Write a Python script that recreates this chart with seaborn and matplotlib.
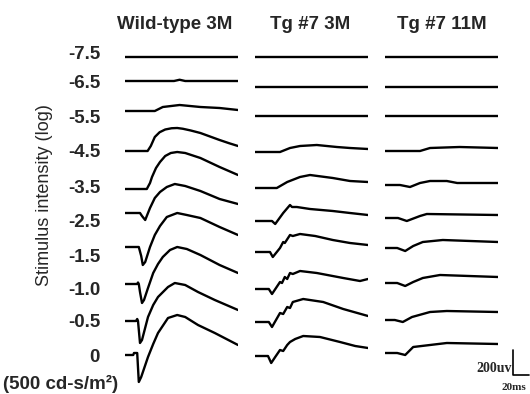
import numpy as np
import pandas as pd
import seaborn as sns
import matplotlib.pyplot as plt

intensities = ["-7.5", "-6.5", "-5.5", "-4.5", "-3.5", "-2.5", "-1.5", "-1.0", "-0.5", "0"]
groups = ["Wild-type 3M", "Tg #7 3M", "Tg #7 11M"]

# ERG traces: time in ms (flash at 0), amplitude in uV from baseline
wt = {
    "-7.5": ([-16, 125], [0, 0]),
    "-6.5": ([-16, 45, 52, 59, 125], [0, 0, 10, 0, 0]),
    "-5.5": ([-16, 21, 31, 52, 78, 102, 125], [0, 0, 32, 48, 32, 24, 8]),
    "-4.5": ([-16, 12, 16, 21, 27, 34, 42, 49, 56, 66, 78, 90, 102, 114, 125],
             [0, 0, 40, 112, 150, 172, 182, 184, 178, 164, 144, 116, 88, 62, 40]),
    "-3.5": ([-16, 11, 15, 17.5, 22.5, 27.5, 34, 41, 49, 59, 78, 102, 125],
             [0, 0, 48, 96, 168, 216, 264, 288, 296, 288, 248, 176, 112]),
    "-2.5": ([-16, 2.5, 5, 9, 11, 15, 21, 27.5, 36, 46, 59, 78, 102, 125],
             [0, 0, -24, -56, -24, 40, 120, 168, 208, 232, 216, 176, 112, 72]),
    "-1.5": ([-16, 1, 4, 6, 9, 15, 21, 27.5, 36, 49, 61, 78, 102, 125],
             [0, 0, -72, -144, -120, 0, 96, 168, 240, 272, 256, 232, 160, 96]),
    "-1.0": ([-16, -1, 0, 1, 2.5, 5, 7.5, 12.5, 19, 25, 31, 40, 49, 61, 78, 102, 125],
             [0, 0, 12, 0, -64, -152, -128, -32, 88, 160, 216, 272, 296, 280, 232, 152, 88]),
    "-0.5": ([-16, -2.5, -1, 0, 2.5, 5, 12.5, 19, 25, 37.5, 46, 59, 75, 96, 125],
             [0, 0, 16, 0, -176, -152, 32, 128, 192, 272, 304, 288, 232, 168, 88]),
    "0": ([-16, -6, -5, -1, 1, 4, 12.5, 19, 25, 37.5, 49, 59, 75, 96, 125],
          [0, 0, 16, 16, -216, -176, -16, 88, 176, 296, 320, 304, 240, 176, 80]),
}

tg3 = {
    "-7.5": ([-16, 125], [0, 0]),
    "-6.5": ([-16, 125], [0, 0]),
    "-5.5": ([-16, 125], [0, 0]),
    "-4.5": ([-16, 15, 27.5, 40, 61, 86, 102.5, 125], [0, 0, 32, 48, 56, 40, 32, 24]),
    "-3.5": ([-16, 11, 24, 40, 52.5, 81, 102.5, 125], [0, 0, 48, 88, 104, 80, 56, 48]),
    "-2.5": ([-16, 5, 9, 19, 27.5, 30, 36, 52.5, 81, 102.5, 125],
             [0, 0, -24, 64, 128, 112, 112, 96, 80, 64, 48]),
    "-1.5": ([-16, 2.5, 6, 11, 15, 19, 21, 27.5, 31, 40, 59, 81, 102.5, 125],
             [0, 0, -40, 0, 32, 80, 72, 136, 128, 144, 128, 96, 72, 56]),
    "-1.0": ([-16, 1, 5, 10, 15, 17.5, 21, 24, 27.5, 31, 40, 61, 94, 115, 125],
             [0, 0, -40, 8, 56, 48, 96, 80, 128, 120, 144, 128, 88, 64, 80]),
    "-0.5": ([-16, 1, 5, 10, 15, 19, 24, 27.5, 31, 44, 69, 94, 125],
             [0, 0, -40, 16, 72, 64, 120, 112, 160, 184, 160, 104, 48]),
    "0": ([-16, 0, 4, 9, 15, 19, 24, 27.5, 34, 44, 65, 90, 109, 125],
          [0, 0, -56, -8, 48, 40, 88, 112, 136, 160, 152, 112, 80, 64]),
}

tg11 = {
    "-7.5": ([-16, 125], [0, 0]),
    "-6.5": ([-16, 125], [0, 0]),
    "-5.5": ([-16, 125], [0, 0]),
    "-4.5": ([-16, 27.5, 40, 77, 125], [0, 0, 24, 32, 24]),
    "-3.5": ([-16, 2.5, 15, 27.5, 40, 61, 74, 125], [0, 0, -16, 16, 32, 32, 16, 16]),
    "-2.5": ([-16, 0, 11, 27.5, 36, 125], [0, 0, -24, 16, 32, 24]),
    "-1.5": ([-16, -1, 9, 19, 31, 56, 125], [0, 0, -24, 16, 48, 64, 48]),
    "-1.0": ([-16, -1, 9, 19, 31, 52.5, 125], [0, 0, -24, 8, 40, 64, 48]),
    "-0.5": ([-16, -4, 6, 17.5, 40, 61, 125], [0, 0, -16, 24, 64, 72, 64]),
    "0": ([-16, -1, 9, 19, 40, 61, 125], [0, 0, -16, 48, 64, 80, 72]),
}

scale_uv = 200
scale_ms = 20

# layout (pixels in a 530x394 canvas)
W, H = 530, 394
MS_PX = 1.25   # ms per pixel
UV_PX = 8.0    # uV per pixel
col_left = [125, 255, 385]
col_width = 113
baselines = [
    [57, 81, 111, 151, 189, 213, 247, 284, 321, 355],
    [57, 87, 116, 152, 188, 221, 252, 289, 322, 356],
    [57, 87, 116, 151, 185, 218, 248, 283, 320, 353],
]
label_base = [59, 88, 123, 157, 193, 227, 262, 295, 327, 362]
title_x = [175, 310, 442]

rows = []
for g, traces, base in zip(groups, [wt, tg3, tg11], baselines):
    for lab, b in zip(intensities, base):
        t, v = traces[lab]
        off = (H - b) * UV_PX
        for ti, vi in zip(t, v):
            rows.append({"group": g, "intensity": lab, "t": ti, "uv": vi + off})
df = pd.DataFrame(rows)

sns.set_style("white")
plt.rcParams["font.family"] = ["Liberation Sans", "DejaVu Sans"]

fig = plt.figure(figsize=(W / 100, H / 100), dpi=100)

axes = []
for g, left in zip(groups, col_left):
    ax = fig.add_axes([left / W, 0, col_width / W, 1])
    sns.lineplot(data=df[df.group == g], x="t", y="uv", units="intensity",
                 estimator=None, sort=False, color="black", lw=1.7, ax=ax)
    ax.set_xlim(-16.25, -16.25 + col_width * MS_PX)
    ax.set_ylim(0, H * UV_PX)
    ax.set_axis_off()
    axes.append(ax)

fs = 13.5
for g, x in zip(groups, title_x):
    fig.text(x / W, 1 - 29 / H, g, ha="center", va="baseline",
             fontsize=fs, weight="bold")

for lab, y in zip(intensities, label_base):
    fig.text(100 / W, 1 - y / H, lab, ha="right", va="baseline",
             fontsize=fs, weight="bold")
fig.text(3 / W, 1 - 389 / H, "(500 cd-s/m²)", ha="left", va="baseline",
         fontsize=fs, weight="bold")

fig.text(45 / W, 1 - 195 / H, "Stimulus intensity (log)", rotation=90,
         ha="center", va="center", fontsize=13)

# scale bar in the last panel
ax = axes[-1]
sx = (513 - 398) * MS_PX
sy = (H - 375) * UV_PX
ax.plot([sx, sx, sx + scale_ms], [sy + scale_uv, sy, sy], color="black",
        lw=1.2, clip_on=False)
ax.text(sx - 2, sy + 56, f"{scale_uv}uv", ha="right", va="center",
        fontsize=10, family="Liberation Serif", weight="bold")
ax.text(sx - 11 * MS_PX, sy - 96, f"{scale_ms}ms", ha="left", va="center",
        fontsize=8, family="Liberation Serif", weight="bold")

fig.savefig("out.png", dpi=100)
